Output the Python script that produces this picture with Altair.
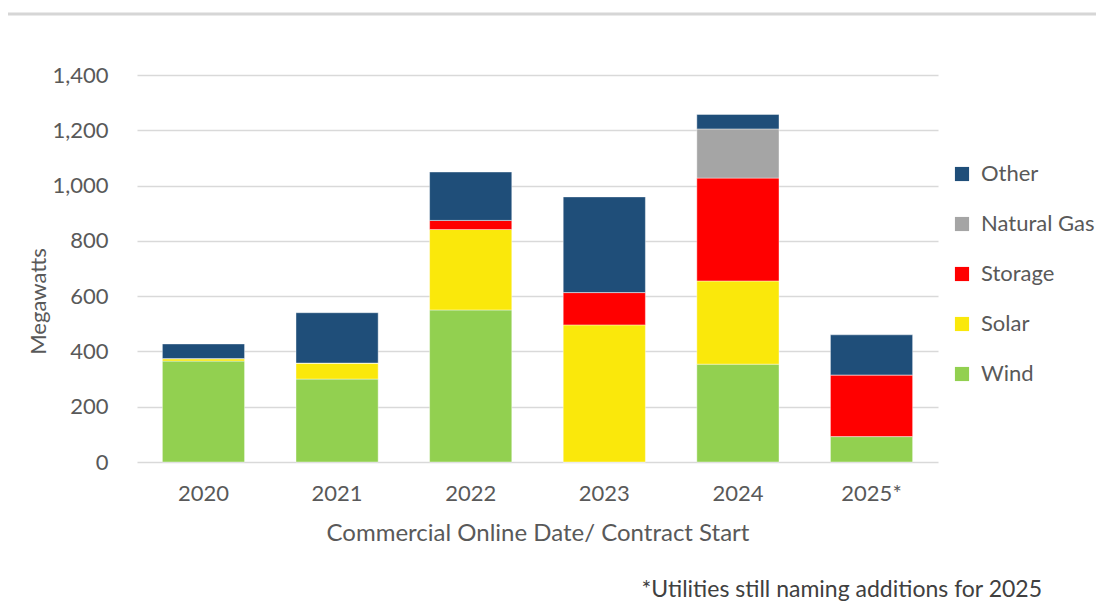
import altair as alt
import pandas as pd

years = ["2020", "2021", "2022", "2023", "2024", "2025*"]
wind = [365, 300, 550, 0, 354, 92]
solar = [9, 58, 291, 496, 301, 0]
storage = [0, 0, 33, 117, 372, 223]
natural_gas = [0, 0, 0, 0, 178, 0]
other = [53, 182, 175, 346, 52, 145]

series = ["Other", "Natural Gas", "Storage", "Solar", "Wind"]
colors = ["#1F4E79", "#A5A5A5", "#FF0000", "#FAE80B", "#92D050"]
stack_rank = {"Wind": 0, "Solar": 1, "Storage": 2, "Natural Gas": 3, "Other": 4}
values = {"Wind": wind, "Solar": solar, "Storage": storage,
          "Natural Gas": natural_gas, "Other": other}

rows = []
for s in ["Wind", "Solar", "Storage", "Natural Gas", "Other"]:
    for y, v in zip(years, values[s]):
        rows.append({"year": y, "type": s, "mw": v, "rank": stack_rank[s]})
df = pd.DataFrame(rows)

FONT = "Lato"
TXT = "#595959"

bars = alt.Chart(df).mark_bar(stroke="#ffffff", strokeWidth=0.8, strokeOpacity=0.5).encode(
    x=alt.X("year:N", sort=years, title="Commercial Online Date/ Contract Start",
            scale=alt.Scale(paddingInner=0.385, paddingOuter=0.19),
            axis=alt.Axis(labelAngle=0, ticks=False, domain=False, labelPadding=21,
                          labelFontSize=22, titleFontSize=24, titlePadding=17,
                          labelColor=TXT, titleColor=TXT, labelFont=FONT, titleFont=FONT,
                          titleFontWeight="normal")),
    y=alt.Y("mw:Q", stack="zero", title="Megawatts",
            scale=alt.Scale(domain=[0, 1400]),
            axis=alt.Axis(values=[0, 200, 400, 600, 800, 1000, 1200, 1400], format=",.0f",
                          ticks=False, domain=False, labelPadding=29,
                          labelFontSize=22, titleFontSize=22, labelColor=TXT, titleColor=TXT,
                          labelFont=FONT, titleFont=FONT, titleFontWeight="normal",
                          gridColor="#D9D9D9", gridWidth=1.5,
                          titleAngle=270, titleX=-99, titleY=226, titleAlign="center",
                          titleBaseline="middle")),
    color=alt.Color("type:N", scale=alt.Scale(domain=series, range=colors),
                    legend=alt.Legend(title=None, orient="none", legendX=814, legendY=88,
                                      symbolType="square", symbolSize=200,
                                      symbolStrokeWidth=0,
                                      labelFontSize=22, labelFont=FONT, labelColor=TXT,
                                      rowPadding=28, labelOffset=8)),
    order=alt.Order("rank:Q", sort="ascending"),
)

footnote = alt.Chart(pd.DataFrame({"t": ["*Utilities still naming additions for 2025"]})).mark_text(
    align="right", baseline="alphabetic", fontSize=23, font=FONT, color="#404040"
).encode(text="t:N", x=alt.value(905), y=alt.value(522))

topline = alt.Chart(pd.DataFrame({"a": [0]})).mark_rule(color="#D6D6D6", strokeWidth=3).encode(
    x=alt.value(-132), x2=alt.value(967), y=alt.value(-61)
)

chart = alt.layer(topline, bars, footnote).properties(
    width=801, height=387,
    background="white",
    autosize=alt.AutoSizeParams(type="none"),
    padding={"left": 129, "top": 67, "right": 158, "bottom": 145},
).configure_view(stroke=None)

chart.save("out.html", embed_options={"renderer": "svg", "actions": False})
